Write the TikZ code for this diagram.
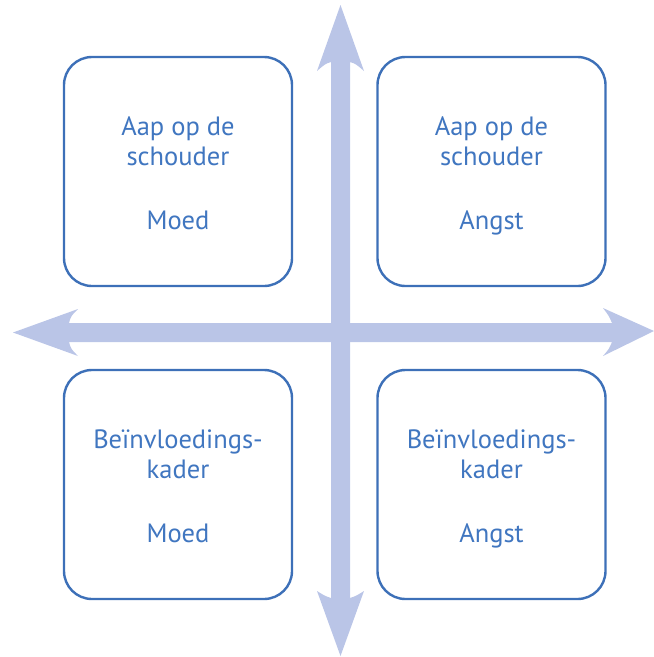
\documentclass[tikz,border=0pt]{standalone}
\usepackage{fontspec}
\setmainfont{PT Sans}
\definecolor{axisblue}{RGB}{186,197,231}
\definecolor{boxblue}{RGB}{61,112,184}
\definecolor{labelblue}{RGB}{64,118,192}
\tikzset{
  quad/.style={draw=boxblue, line width=2.4pt, rounded corners=28pt, fill=white,
    minimum width=228pt, minimum height=229pt, inner sep=0pt},
  qlabel/.style={text=labelblue, align=center, inner sep=0pt,
    font=\fontsize{26.5}{30}\selectfont},
  axis/.style={fill=axisblue, draw=none}
}
\newcommand{\lastline}[1]{#1\strut}
\begin{document}
\begin{tikzpicture}[x=1pt,y=-1pt]
\useasboundingbox (0,0) rectangle (654,657);
% vertical axis with heads at both ends
\path[axis] (340.5,5) -- (364,71) .. controls (356,64) .. (350,62) -- (350,598)
  .. controls (356,596) .. (364,591) -- (340.5,656) -- (317,591)
  .. controls (325,596) .. (331,598) -- (331,62) .. controls (325,64) .. (317,71) -- cycle;
% horizontal axis with heads at both ends
\path[axis] (13,332.5) -- (78,309) .. controls (71,316) .. (69,323) -- (612,323)
  .. controls (609,316) .. (603,308) -- (654,331) -- (603,356)
  .. controls (609,349) .. (612,342) -- (69,342) .. controls (71,349) .. (78,356) -- cycle;
% the four quadrants
\node[quad] (tl) at (178,171.5) {};
\node[quad] (tr) at (491.5,171.5) {};
\node[quad] (bl) at (178,484.5) {};
\node[quad] (br) at (491.5,484.5) {};
% labels, placed from the box centres
\node[qlabel] (tltext) at ([yshift=-6pt]tl.center) {Aap op de\\schouder\\\\[4pt]\lastline{Moed}};
\node[qlabel] (trtext) at ([yshift=-6pt]tr.center) {Aap op de\\schouder\\\\[4pt]\lastline{Angst}};
\node[qlabel] (bltext) at ([yshift=-6pt]bl.center) {Beïnvloedings-\\kader\\\\[4pt]\lastline{Moed}};
\node[qlabel] (brtext) at ([yshift=-6pt]br.center) {Beïnvloedings-\\kader\\\\[4pt]\lastline{Angst}};
\end{tikzpicture}
\end{document}
